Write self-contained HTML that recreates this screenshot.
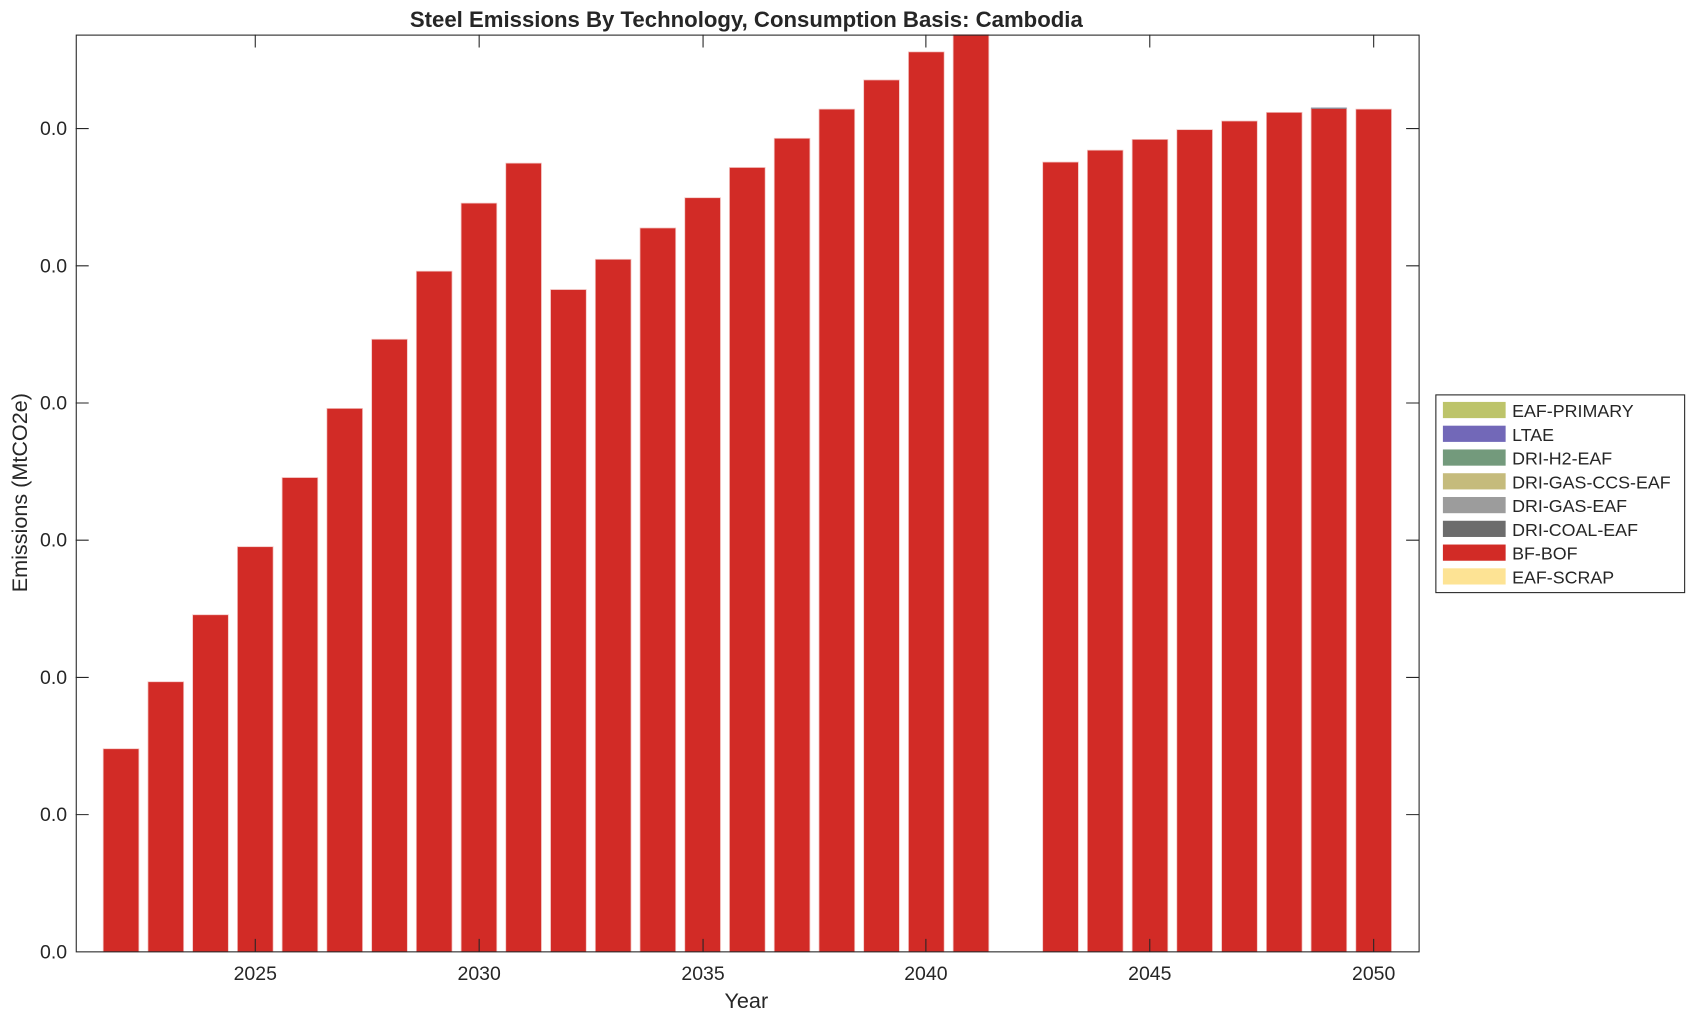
<!DOCTYPE html>
<html><head><meta charset="utf-8"><style>html,body{margin:0;padding:0;background:#fff}svg{display:block}text{font-family:"Liberation Sans",Arial,sans-serif;fill:#262626}</style></head><body>
<svg width="1696" height="1021" viewBox="0 0 1568 945" preserveAspectRatio="none" xmlns="http://www.w3.org/2000/svg">
<g fill="#d22b26" stroke="#f3c4c2" stroke-width="0.7">
<rect x="95.4" y="693" width="33" height="188"/>
<rect x="136.8" y="631" width="33" height="250"/>
<rect x="178.1" y="569" width="33" height="312"/>
<rect x="219.5" y="506" width="33" height="375"/>
<rect x="260.8" y="442" width="33" height="439"/>
<rect x="302.2" y="378" width="33" height="503"/>
<rect x="343.6" y="314" width="33" height="567"/>
<rect x="384.9" y="251" width="33" height="630"/>
<rect x="426.3" y="188" width="33" height="693"/>
<rect x="467.6" y="151" width="33" height="730"/>
<rect x="509.0" y="268" width="33" height="613"/>
<rect x="550.4" y="240" width="33" height="641"/>
<rect x="591.7" y="211" width="33" height="670"/>
<rect x="633.1" y="183" width="33" height="698"/>
<rect x="674.4" y="155" width="33" height="726"/>
<rect x="715.8" y="128" width="33" height="753"/>
<rect x="757.2" y="101" width="33" height="780"/>
<rect x="798.5" y="74" width="33" height="807"/>
<rect x="839.9" y="48" width="33" height="833"/>
<rect x="881.2" y="32" width="33" height="849"/>
<rect x="964.0" y="150" width="33" height="731"/>
<rect x="1005.3" y="139" width="33" height="742"/>
<rect x="1046.7" y="129" width="33" height="752"/>
<rect x="1088.0" y="120" width="33" height="761"/>
<rect x="1129.4" y="112" width="33" height="769"/>
<rect x="1170.8" y="104" width="33" height="777"/>
<rect x="1212.1" y="100" width="33" height="781"/>
<rect x="1253.5" y="101" width="33" height="780"/>
</g>
<rect x="1212.1" y="99.5" width="33" height="1.2" fill="#8a9aa8"/>
<g stroke="#262626" stroke-width="1" fill="none">
<rect x="70.5" y="32.5" width="1241.5" height="848.5"/>
<path d="M236 881v-12M443 881v-12M650 881v-12M856 881v-12M1063 881v-12M1270 881v-12M236 32v12M443 32v12M650 32v12M856 32v12M1063 32v12M1270 32v12"/>
<path d="M70 754h12M70 627h12M70 500h12M70 373h12M70 246h12M70 119h12M1312 754h-12M1312 627h-12M1312 500h-12M1312 373h-12M1312 246h-12M1312 119h-12"/>
</g>
<g font-size="18" text-anchor="end">
<text x="62" y="887">0.0</text><text x="62" y="760">0.0</text><text x="62" y="633">0.0</text><text x="62" y="506">0.0</text><text x="62" y="379">0.0</text><text x="62" y="252">0.0</text><text x="62" y="125">0.0</text>
</g>
<g font-size="18" text-anchor="middle">
<text x="236" y="907">2025</text><text x="443" y="907">2030</text><text x="650" y="907">2035</text><text x="856" y="907">2040</text><text x="1063" y="907">2045</text><text x="1270" y="907">2050</text>
<text x="690" y="933" font-size="20">Year</text>
<text x="690" y="25" font-size="20.5" font-weight="bold" fill="#000">Steel Emissions By Technology, Consumption Basis: Cambodia</text>
<text transform="translate(25,456) rotate(-90)" font-size="20">Emissions (MtCO2e)</text>
</g>
<rect x="1327.5" y="365.5" width="230" height="183" fill="#fff" stroke="#262626"/>
<g>
<rect x="1334" y="372" width="58" height="15" fill="#bdc46a"/>
<rect x="1334" y="394" width="58" height="15" fill="#7268b8"/>
<rect x="1334" y="416" width="58" height="15" fill="#739a7c"/>
<rect x="1334" y="438" width="58" height="15" fill="#c5bb7c"/>
<rect x="1334" y="460" width="58" height="15" fill="#9c9c9c"/>
<rect x="1334" y="482" width="58" height="15" fill="#6c6c6c"/>
<rect x="1334" y="504" width="58" height="15" fill="#d22b26"/>
<rect x="1334" y="526" width="58" height="15" fill="#fde394"/>
</g>
<g font-size="16.5" fill="#000">
<text x="1398" y="386">EAF-PRIMARY</text>
<text x="1398" y="408">LTAE</text>
<text x="1398" y="430">DRI-H2-EAF</text>
<text x="1398" y="452">DRI-GAS-CCS-EAF</text>
<text x="1398" y="474">DRI-GAS-EAF</text>
<text x="1398" y="496">DRI-COAL-EAF</text>
<text x="1398" y="518">BF-BOF</text>
<text x="1398" y="540">EAF-SCRAP</text>
</g>
</svg>
</body></html>
